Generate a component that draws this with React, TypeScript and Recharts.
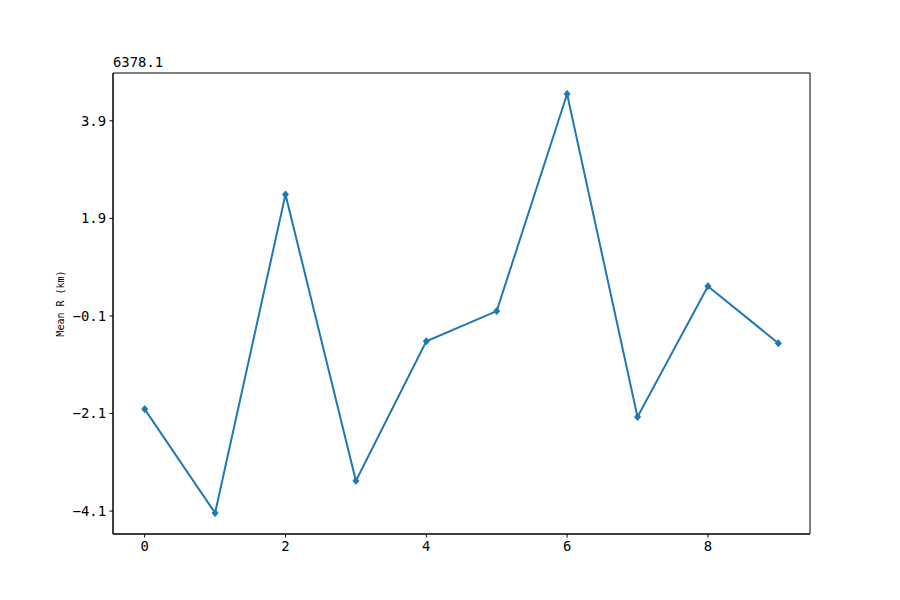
import React from "react";
import {
  LineChart,
  Line,
  XAxis,
  YAxis,
  ReferenceArea,
} from "recharts";

// values are offsets from 6378.1 km
const indices = [0, 1, 2, 3, 4, 5, 6, 7, 8, 9];
const meanR = [-2.01, -4.14, 2.39, -3.48, -0.62, 0.0, 4.45, -2.17, 0.51, -0.66];
const xTicks = [0, 2, 4, 6, 8];
const yTicks = [-4.1, -2.1, -0.1, 1.9, 3.9];
const offsetLabel = "6378.1";

const xDomain = [-0.45, 9.45];
const yDomain = [-4.57, 4.88];

const data = indices.map((i, k) => ({ idx: i, r: meanR[k] }));

const FONT = "'DejaVu Sans Mono', monospace";
const BLUE = "#1f77b4";

const Diamond = (props: any) => {
  const { cx, cy } = props;
  if (cx == null || cy == null) return null;
  return (
    <path
      d={`M${cx},${cy - 3.5} L${cx + 3},${cy} L${cx},${cy + 3.5} L${cx - 3},${cy} Z`}
      fill={BLUE}
      stroke={BLUE}
      strokeWidth={1}
    />
  );
};

export default function App() {
  return (
    <div style={{ position: "absolute", left: 0, top: 0, width: 900, height: 600, background: "#fff" }}>
      <LineChart
        width={900}
        height={600}
        data={data}
        margin={{ top: 73, right: 90, bottom: 0, left: 0 }}
      >
        <XAxis
          dataKey="idx"
          type="number"
          domain={xDomain}
          ticks={xTicks}
          height={66}
          tickSize={3.5}
          tickMargin={4}
          stroke="#000"
          tick={{ fill: "#000", fontFamily: FONT, fontSize: 13.9 }}
          tickLine={{ stroke: "#000" }}
          axisLine={{ stroke: "#000" }}
        />
        <YAxis
          type="number"
          domain={yDomain}
          ticks={yTicks}
          width={113}
          tickSize={3.5}
          tickMargin={3.5}
          stroke="#000"
          tickFormatter={(v: number) => v.toFixed(1).replace("-", "\u2212")}
          tick={{ fill: "#000", fontFamily: FONT, fontSize: 13.9 }}
          tickLine={{ stroke: "#000" }}
          axisLine={{ stroke: "#000" }}
          label={{
            value: "Mean R (km)",
            angle: -90,
            position: "insideLeft",
            offset: 60,
            style: { fontFamily: FONT, fontSize: 10, fill: "#000", textAnchor: "middle" },
          }}
        />
        <ReferenceArea
          x1={xDomain[0]}
          x2={xDomain[1]}
          y1={yDomain[0]}
          y2={yDomain[1]}
          fill="none"
          fillOpacity={0}
          stroke="#000"
          strokeWidth={1}
        />
        <Line
          dataKey="r"
          stroke={BLUE}
          strokeWidth={2}
          dot={<Diamond />}
          activeDot={false}
          isAnimationActive={false}
        />
        <text x={113} y={67} fontFamily={FONT} fontSize={13.9} fill="#000">
          {offsetLabel}
        </text>
      </LineChart>
    </div>
  );
}
